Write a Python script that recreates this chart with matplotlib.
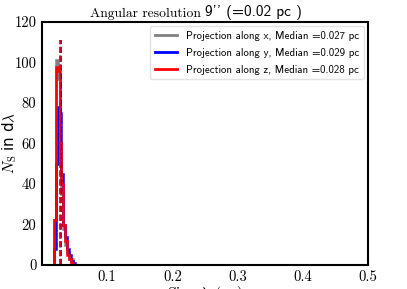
import numpy as np
import matplotlib
matplotlib.use("Agg")
import matplotlib.pyplot as plt
from matplotlib.lines import Line2D

plt.rcParams['mathtext.fontset'] = 'cm'
plt.rcParams['axes.formatter.use_mathtext'] = True

# histogram bins (pc) and counts
edges = [0.015, 0.018, 0.021, 0.024, 0.027, 0.030, 0.033, 0.036,
         0.039, 0.042, 0.045, 0.048, 0.051, 0.054]
counts_x = [0, 22, 101, 92, 60, 35, 18, 10, 6, 3, 3, 0, 0]
counts_y = [0, 8, 50, 78, 75, 45, 20, 14, 8, 5, 2, 1, 0]
counts_z = [0, 22, 98, 96, 60, 40, 20, 12, 5, 3, 1, 0, 0]
medians = [0.027, 0.029, 0.028]
median_top = 111
labels = ['Projection along x, Median =0.027 pc',
          'Projection along y, Median =0.029 pc',
          'Projection along z, Median =0.028 pc']
colors = ['grey', 'blue', 'red']

fig = plt.figure(figsize=(4.07, 2.89), dpi=100)
ax = fig.add_axes([0.103, 0.083, 0.801, 0.841])

centers = (np.array(edges[:-1]) + np.array(edges[1:])) / 2
for cnt, col in zip([counts_x, counts_y, counts_z], colors):
    ax.hist(centers, bins=edges, weights=cnt, histtype='step',
            color=col, lw=1.8)
for m, col in zip(medians, colors):
    ax.vlines(m, 0, median_top, colors=col, linestyles='dashed', lw=1.2)

ax.set_xlim(0, 0.5)
ax.set_ylim(0, 120)
ax.set_xticks([0.1, 0.2, 0.3, 0.4, 0.5])
ax.set_xticklabels(['0.1', '0.2', '0.3', '0.4', '0.5'], family='cmr10')
ax.set_yticks([0, 20, 40, 60, 80, 100, 120])
ax.set_yticklabels(['0', '20', '40', '60', '80', '100', '120'], family='cmr10')
ax.tick_params(length=0, labelsize=10.5, pad=4)
for s in ax.spines.values():
    s.set_linewidth(1.5)

ax.set_xlabel(r'Size $\lambda$ (pc)', family='cmr10', fontsize=11.5, labelpad=0)
ax.set_ylabel(r'$N_{\rm S}$ in d$\lambda$', fontsize=10.8)
ax.yaxis.set_label_coords(-0.07, 0.5)

# title: serif part then sans part
ax.text(0.5, 1.01, 'Angular resolution ', transform=ax.transAxes,
        ha='right', va='bottom', family='cmr10', fontsize=9.8)
ax.text(0.5, 1.01, "9'' (=0.02 pc )", transform=ax.transAxes,
        ha='left', va='bottom', family='cmss10', fontsize=11)

handles = [Line2D([], [], color=c, lw=2) for c in colors]
leg = ax.legend(handles, labels, loc='upper right',
                prop={'family': 'cmss10', 'size': 7.8},
                handlelength=2.1, labelspacing=0.65, frameon=True,
                borderaxespad=0.4)
leg.get_frame().set_edgecolor('#dddddd')

fig.savefig('out.png', dpi=100)
